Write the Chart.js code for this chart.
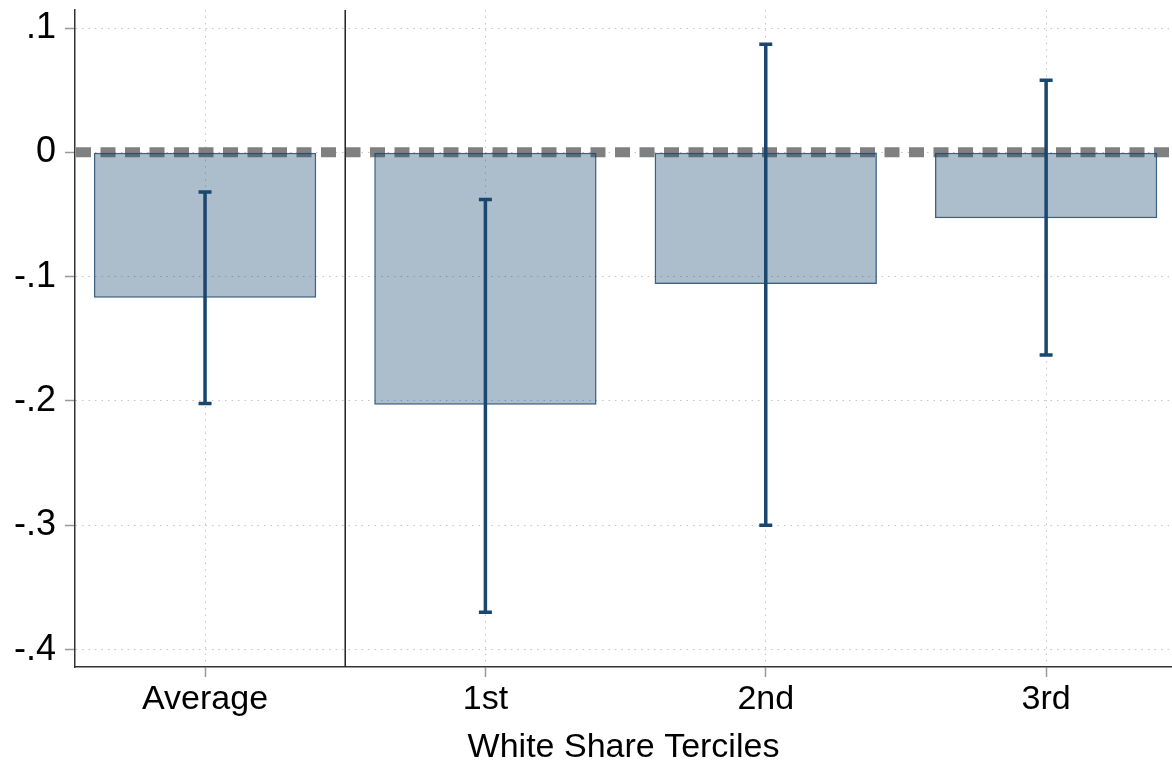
<!DOCTYPE html>
<html>
<head>
<meta charset="utf-8">
<script src="https://cdn.jsdelivr.net/npm/chart.js@4/dist/chart.umd.min.js"></script>
<style>
  body { margin: 0; background: #fff; }
  #wrap { width: 1172px; height: 769px; }
</style>
</head>
<body>
<div id="wrap"><canvas id="tercileChart" width="1172" height="769"></canvas></div>
<script>
// values
const categories = ["Average", "1st", "2nd", "3rd"];
const estimates = [-0.117, -0.203, -0.106, -0.053];
const ciLow = [-0.202, -0.370, -0.300, -0.163];
const ciHigh = [-0.032, -0.038, 0.087, 0.058];
const yTicks = [0.1, 0, -0.1, -0.2, -0.3, -0.4];
const yTickLabels = [".1", "0", "-.1", "-.2", "-.3", "-.4"];

const navy = "#1a476f";
const fontFamily = "'Liberation Sans', Arial, Helvetica, sans-serif";

const refLines = {
  id: "refLines",
  beforeDatasetsDraw(chart) {
    const { ctx, chartArea: a, scales: { x, y } } = chart;
    const y0 = y.getPixelForValue(0);
    ctx.save();
    ctx.strokeStyle = "#808080";
    ctx.lineWidth = 10;
    ctx.setLineDash([15, 9.5]);
    ctx.beginPath();
    ctx.moveTo(a.left + 1, y0);
    ctx.lineTo(a.right, y0);
    ctx.stroke();
    ctx.setLineDash([]);
    // separator between the average and the terciles
    const xs = x.getPixelForValue(0.5);
    ctx.strokeStyle = "#222";
    ctx.lineWidth = 1.5;
    ctx.beginPath();
    ctx.moveTo(xs, a.top);
    ctx.lineTo(xs, a.bottom);
    ctx.stroke();
    ctx.restore();
  },
  afterDatasetsDraw(chart) {
    const { ctx, scales: { x, y } } = chart;
    ctx.save();
    ctx.strokeStyle = navy;
    ctx.lineWidth = 3.5;
    categories.forEach((c, i) => {
      const px = x.getPixelForValue(i);
      const lo = y.getPixelForValue(ciLow[i]);
      const hi = y.getPixelForValue(ciHigh[i]);
      ctx.beginPath();
      ctx.moveTo(px, hi);
      ctx.lineTo(px, lo);
      ctx.moveTo(px - 6.5, hi);
      ctx.lineTo(px + 6.5, hi);
      ctx.moveTo(px - 6.5, lo);
      ctx.lineTo(px + 6.5, lo);
      ctx.stroke();
    });
    ctx.restore();
  }
};

new Chart(document.getElementById("tercileChart").getContext("2d"), {
  type: "bar",
  data: {
    datasets: [
      {
        data: estimates.map((v, i) => ({ x: i, y: v })),
        backgroundColor: "rgba(26, 71, 111, 0.36)",
        borderColor: "rgba(26, 71, 111, 0.85)",
        borderWidth: 1.5,
        borderSkipped: false,
        barPercentage: 0.793,
        categoryPercentage: 1,
      },
    ],
  },
  options: {
    responsive: false,
    animation: false,
    layout: { padding: { top: 10, right: 0, left: 0, bottom: 0 } },
    plugins: { legend: { display: false }, tooltip: { enabled: false } },
    scales: {
      x: {
        type: "linear",
        offset: false,
        min: -0.4638,
        max: 3.449,
        afterBuildTicks: (s) => { s.ticks = categories.map((c, i) => ({ value: i })); },
        afterFit: (s) => { s.height = 102; s.paddingLeft = 0; s.paddingRight = 0; },
        ticks: {
          callback: (v) => categories[Math.round(v)],
          color: "#000",
          font: { family: fontFamily, size: 34 },
          padding: 2,
          maxRotation: 0,
        },
        grid: {
          offset: false,
          color: "#c4c4c4",
          lineWidth: 1,
          tickLength: 10,
          tickColor: "#999",
          tickWidth: 1.5,
          tickBorderDash: [],
        },
        border: { display: true, color: "#333", width: 1.5, dash: [1.5, 5] },
        title: {
          display: true,
          text: "White Share Terciles",
          color: "#000",
          font: { family: fontFamily, size: 34 },
          padding: { top: 4, bottom: 1 },
        },
      },
      y: {
        min: -0.414,
        max: 0.1145,
        afterBuildTicks: (s) => { s.ticks = yTicks.map((v) => ({ value: v })); },
        afterFit: (s) => { s.width = 75; s.paddingTop = 0; s.paddingBottom = 0; },
        ticks: {
          callback: (v, i) => yTickLabels[i],
          color: "#000",
          font: { family: fontFamily, size: 36 },
          padding: 9,
        },
        grid: {
          color: "#c4c4c4",
          lineWidth: 1,
          tickLength: 10,
          tickColor: "#999",
          tickWidth: 1.5,
          tickBorderDash: [],
        },
        border: { display: true, color: "#333", width: 1.5, dash: [1.5, 5] },
      },
    },
  },
  plugins: [refLines],
});
</script>
</body>
</html>
